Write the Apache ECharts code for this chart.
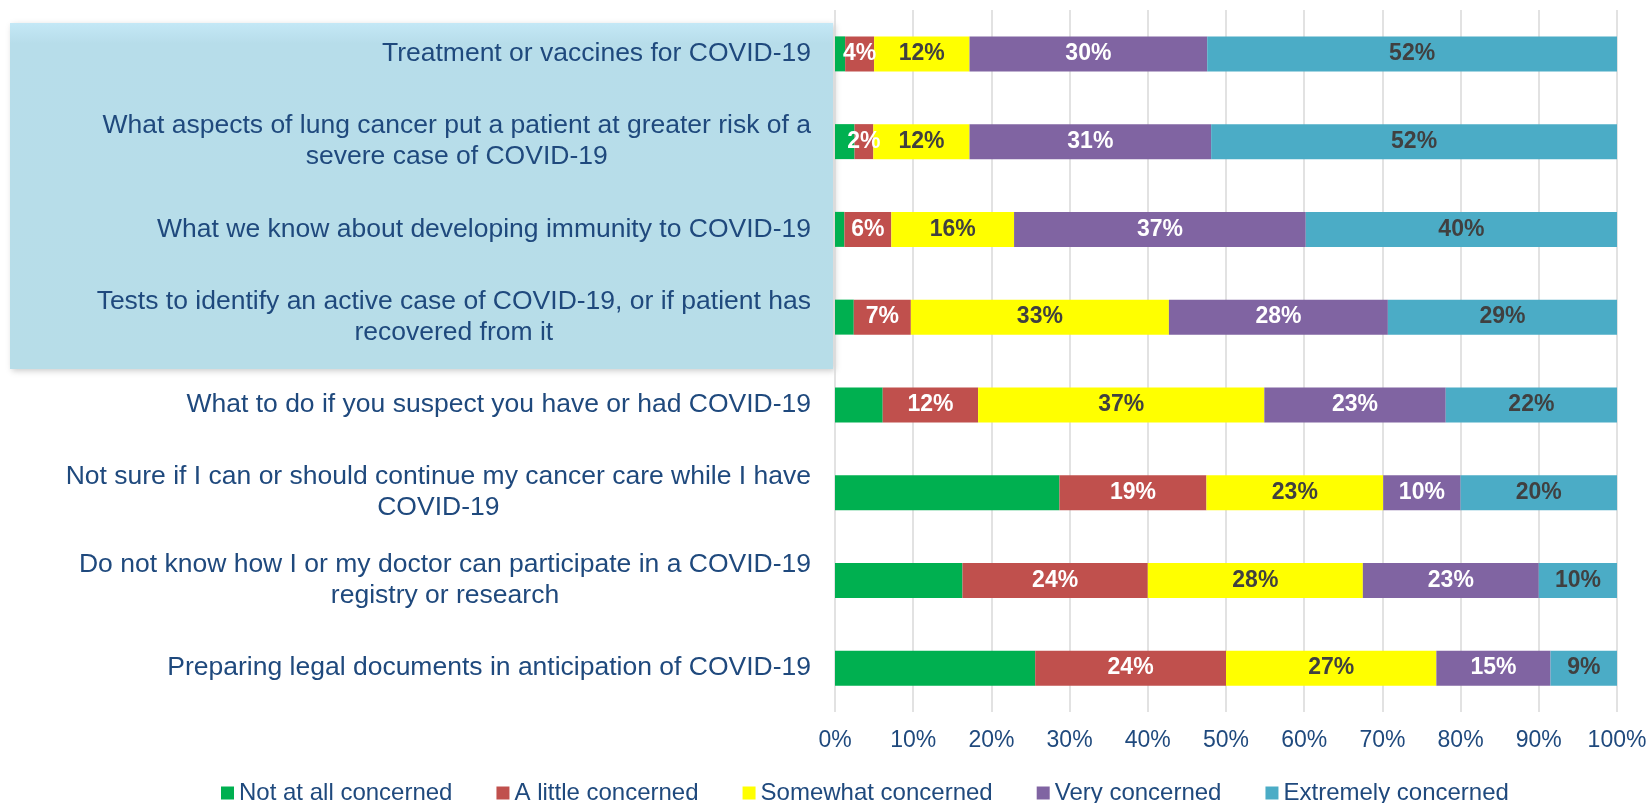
<!DOCTYPE html>
<html>
<head>
<meta charset="utf-8">
<script src="https://cdn.jsdelivr.net/npm/echarts@6/dist/echarts.min.js"></script>
<style>
  html, body { margin: 0; padding: 0; background: #fff; }
  #chart { width: 1650px; height: 803px; }
</style>
</head>
<body>
<div id="chart"></div>
<script>
  // categories, top to bottom
  var topics = [
    'Treatment or vaccines for COVID-19',
    'What aspects of lung cancer put a patient at greater risk of a\nsevere case of COVID-19',
    'What we know about developing immunity to COVID-19',
    'Tests to identify an active case of COVID-19, or if patient has\nrecovered from it',
    'What to do if you suspect you have or had COVID-19',
    'Not sure if I can or should continue my cancer care while I have\nCOVID-19',
    'Do not know how I or my doctor can participate in a COVID-19\nregistry or research',
    'Preparing legal documents in anticipation of COVID-19'
  ];
  var levels = ['Not at all concerned', 'A little concerned', 'Somewhat concerned', 'Very concerned', 'Extremely concerned'];

  // share of respondents (%), one array per level, same order as topics
  var notAtAll  = [1.3, 2.5, 1.2, 2.4, 6.1, 28.7, 16.3, 25.6];
  var aLittle   = [3.7, 2.4, 6.0, 7.3, 12.2, 18.8, 23.7, 24.4];
  var somewhat  = [12.2, 12.3, 15.7, 33.0, 36.6, 22.6, 27.5, 26.9];
  var very      = [30.4, 30.9, 37.3, 28.0, 23.2, 9.9, 22.5, 14.6];
  var extremely = [52.4, 51.9, 39.8, 29.3, 21.9, 20.0, 10.0, 8.5];

  var xTicks = [0, 10, 20, 30, 40, 50, 60, 70, 80, 90, 100];

  var colors = ['#00B050', '#C0504D', '#FFFF00', '#8064A2', '#4BACC6'];
  var labelColors = [null, '#FFFFFF', '#404040', '#FFFFFF', '#404040'];
  var navy = '#1F497D';
  var font = '"Liberation Sans", Arial, sans-serif';

  var allData = [notAtAll, aLittle, somewhat, very, extremely];

  var series = allData.map(function (d, i) {
    return {
      name: levels[i],
      type: 'bar',
      stack: 'total',
      barWidth: 35,
      color: colors[i],
      data: d,
      label: {
        show: i > 0,
        position: 'inside',
        color: labelColors[i] || '#fff',
        fontFamily: font,
        fontWeight: 'bold',
        fontSize: 23,
        formatter: function (p) { return Math.round(p.value) + '%'; }
      }
    };
  });

  var myChart = echarts.init(document.getElementById('chart'));
  var option = {
    animation: false,
    backgroundColor: '#fff',
    graphic: {
      elements: [{
        type: 'rect',
        z: 0,
        shape: { x: 10, y: 23, width: 823, height: 346 },
        style: {
          fill: new echarts.graphic.LinearGradient(0, 0, 0, 1, [
            { offset: 0, color: '#C4E8F6' },
            { offset: 0.06, color: '#B7DDEA' },
            { offset: 1, color: '#B7DDE8' }
          ]),
          shadowBlur: 6,
          shadowOffsetX: 2,
          shadowOffsetY: 2,
          shadowColor: 'rgba(0,0,0,0.2)'
        }
      }]
    },
    grid: {
      left: 835,
      right: 33,
      top: 10,
      bottom: 91,
      containLabel: false
    },
    legend: {
      data: levels,
      left: 216,
      top: 776,
      icon: 'rect',
      itemWidth: 13,
      itemHeight: 13,
      itemGap: 44,
      textStyle: { color: navy, fontSize: 24, fontFamily: font, lineHeight: 24 }
    },
    xAxis: {
      type: 'value',
      min: xTicks[0],
      max: xTicks[xTicks.length - 1],
      interval: xTicks[1] - xTicks[0],
      axisLine: { show: false },
      axisTick: { show: false },
      splitLine: { show: true, lineStyle: { color: '#D9D9D9', width: 1.5 } },
      axisLabel: {
        color: navy,
        fontSize: 23,
        fontFamily: font,
        margin: 17,
        formatter: '{value}%'
      }
    },
    yAxis: {
      type: 'category',
      inverse: true,
      data: topics,
      axisLine: { show: false },
      axisTick: { show: false },
      axisLabel: {
        interval: 0,
        margin: 24,
        formatter: function (v) {
          return v.split('\n').map(function (l) { return '{c|' + l + '}'; }).join('\n');
        },
        rich: {
          c: {
            align: 'center',
            color: navy,
            fontSize: 26.5,
            fontFamily: font,
            lineHeight: 31
          }
        }
      }
    },
    series: series
  };
  myChart.setOption(option);
</script>
</body>
</html>
